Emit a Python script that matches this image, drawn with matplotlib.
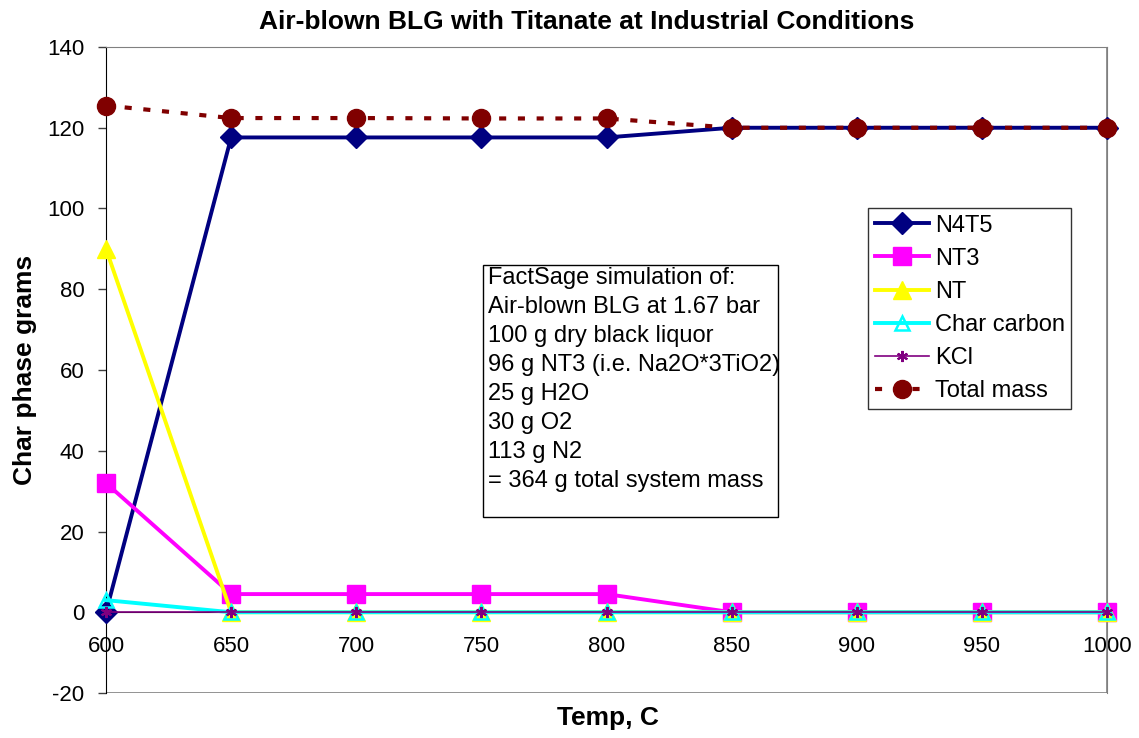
import numpy as np
import matplotlib.pyplot as plt
from matplotlib.patches import Rectangle

plt.rcParams['font.family'] = ['Liberation Sans', 'DejaVu Sans']
plt.rcParams['axes.unicode_minus'] = False

# Equilibrium char phase masses vs temperature
temp = [600, 650, 700, 750, 800, 850, 900, 950, 1000]
n4t5 = [0, 117.6, 117.6, 117.6, 117.6, 120, 120, 120, 120]
nt3 = [32, 4.5, 4.5, 4.5, 4.5, 0, 0, 0, 0]
nt = [90, 0, 0, 0, 0, 0, 0, 0, 0]
char_carbon = [3, 0, 0, 0, 0, 0, 0, 0, 0]
kcl = [0, 0, 0, 0, 0, 0, 0, 0, 0]
total_mass = [125.5, 122.4, 122.4, 122.3, 122.3, 120, 120, 120, 120]

yticks = np.arange(-20, 141, 20)

note_lines = [
    "FactSage simulation of:",
    "Air-blown BLG at 1.67 bar",
    "100 g dry black liquor",
    "96 g NT3 (i.e. Na2O*3TiO2)",
    "25 g H2O",
    "30 g O2",
    "113 g N2",
    "= 364 g total system mass",
]

W, H = 1139, 738
fig = plt.figure(figsize=(W / 100, H / 100), dpi=100)
ax = fig.add_axes([106/W, 1-693/H, (1107-106)/W, (693-47)/H])

ax.plot(temp, n4t5, color='#000080', lw=2.8, marker='D', ms=11, label='N4T5', clip_on=False, zorder=3)
ax.plot(temp, nt3, color='#FF00FF', lw=2.8, marker='s', ms=13, label='NT3', clip_on=False, zorder=4)
ax.plot(temp, nt, color='#FFFF00', lw=2.8, marker='^', ms=13, label='NT', clip_on=False, zorder=5)
ax.plot(temp, char_carbon, color='#00FFFF', lw=2.8, marker='^', ms=10, mfc='none', mew=1.8,
        label='Char carbon', clip_on=False, zorder=6)
ax.plot(temp, kcl, color='#800080', lw=1.2, marker=(6, 2, 0), ms=8, mew=1.5,
        label='KCl', clip_on=False, zorder=7)
ax.plot(temp, total_mass, color='#800000', lw=3, ls=(0, (1.7, 2.8)), marker='o', ms=13,
        label='Total mass', clip_on=False, zorder=8)

ax.set_xlim(600, 1000)
ax.set_ylim(-20, 140)
ax.set_xticks(temp)
ax.set_yticks(yticks)
ax.tick_params(axis='both', labelsize=16, color='#404040')
ax.tick_params(axis='x', length=0, pad=17)
ax.tick_params(axis='y', length=6, width=1, pad=9.5)

# x axis crosses at zero, plot area gets a gray frame
ax.spines['bottom'].set_position(('data', 0))
ax.spines['bottom'].set_color('black')
ax.spines['left'].set_color('black')
for s in ['top', 'right']:
    ax.spines[s].set_color('#808080')
ax.add_patch(Rectangle((0, 0), 1, 1, transform=ax.transAxes, fill=False,
                       edgecolor='#808080', lw=1.2, zorder=0))

fig.text(587/W, 1 - 22/H, 'Air-blown BLG with Titanate at Industrial Conditions',
         fontsize=19, fontweight='bold', ha='center', va='center')
fig.text(608/W, 1 - 718/H, 'Temp, C', fontsize=19, fontweight='bold',
         ha='center', va='center')
fig.text(25/W, 1 - 370/H, 'Char phase grams', fontsize=19, fontweight='bold',
         ha='center', va='center', rotation=90)

leg = ax.legend(loc='upper left', bbox_to_anchor=((868-106)/1001, (693-208)/646),
                fontsize=17, frameon=True, fancybox=False, edgecolor='black',
                handlelength=2.3, borderpad=0.28, labelspacing=0.47, handletextpad=0.25,
                borderaxespad=0)
leg.get_frame().set_linewidth(1)

# annotation box with the simulation inputs
fig.patches.append(Rectangle((483/W, 1-517/H), (778-483)/W, (517-265)/H,
                             transform=fig.transFigure, fc='white', ec='black',
                             lw=1, zorder=9))
fig.text(488/W, 1 - 267/H, "\n".join(note_lines), fontsize=17, va='top', ha='left',
         linespacing=1.41, zorder=10)

fig.savefig('out.png', dpi=100)
